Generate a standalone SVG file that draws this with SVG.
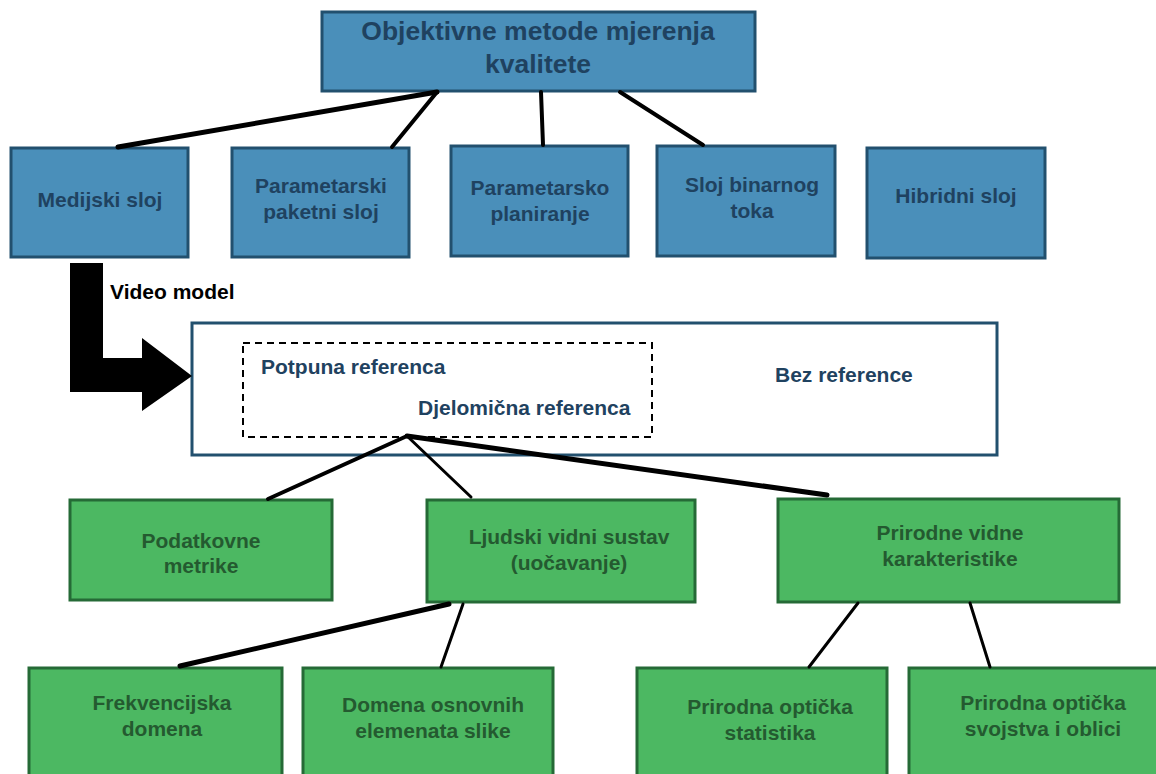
<svg xmlns="http://www.w3.org/2000/svg" width="1156" height="774" viewBox="0 0 1156 774">
<style>
.b{fill:#4a8fba;stroke:#22506e;stroke-width:3}
.g{fill:#4cb862;stroke:#256a36;stroke-width:3}
text{font-family:"Liberation Sans",Arial,sans-serif;font-weight:bold;text-anchor:middle}
.tb{fill:#1f4260;font-size:21px}
.tg{fill:#245a30;font-size:21px}
.tr{fill:#1f4260;font-size:21px;text-anchor:start}
.c{stroke:#000;fill:none;stroke-linecap:round}
</style>
<rect width="1156" height="774" fill="#fff"/>
<g id="root"><rect class="b" x="322" y="12" width="433" height="79"/>
<text class="tb" x="538" y="40" style="font-size:26.5px">Objektivne metode mjerenja</text>
<text class="tb" x="538" y="73" style="font-size:26.5px">kvalitete</text></g>
<g id="medijski"><rect class="b" x="11" y="148" width="177" height="109"/><text class="tb" x="100" y="207">Medijski sloj</text></g>
<g id="paketni"><rect class="b" x="232" y="148" width="177" height="109"/><text class="tb" x="321" y="193">Parametarski</text><text class="tb" x="321" y="219">paketni sloj</text></g>
<g id="planiranje"><rect class="b" x="451" y="146" width="177" height="110"/><text class="tb" x="540" y="195">Parametarsko</text><text class="tb" x="540" y="221">planiranje</text></g>
<g id="binarni"><rect class="b" x="657" y="146" width="178" height="110"/><text class="tb" x="752" y="192">Sloj binarnog</text><text class="tb" x="752" y="218">toka</text></g>
<g id="hibridni"><rect class="b" x="867" y="148" width="178" height="110"/><text class="tb" x="956" y="203">Hibridni sloj</text></g>
<g id="reference"><rect x="192" y="323" width="805" height="132" fill="#fff" stroke="#22506e" stroke-width="3"/>
<rect x="243" y="343" width="409" height="94" fill="none" stroke="#000" stroke-width="2" stroke-dasharray="7,5"/>
<text class="tr" x="261" y="374">Potpuna referenca</text>
<text class="tr" x="418" y="415">Djelomična referenca</text>
<text class="tr" x="775" y="382">Bez reference</text></g>
<g id="podatkovne"><rect class="g" x="70" y="500" width="262" height="100"/><text class="tg" x="201" y="548">Podatkovne</text><text class="tg" x="201" y="573">metrike</text></g>
<g id="ljudski"><rect class="g" x="427" y="500" width="268" height="102"/><text class="tg" x="569" y="544">Ljudski vidni sustav</text><text class="tg" x="569" y="570">(uočavanje)</text></g>
<g id="prirodne"><rect class="g" x="778" y="499" width="341" height="103"/><text class="tg" x="950" y="540">Prirodne vidne</text><text class="tg" x="950" y="566">karakteristike</text></g>
<g id="frekvencijska"><rect class="g" x="29" y="668" width="253" height="110"/><text class="tg" x="162" y="710">Frekvencijska</text><text class="tg" x="162" y="736">domena</text></g>
<g id="domena"><rect class="g" x="303" y="668" width="250" height="110"/><text class="tg" x="433" y="712">Domena osnovnih</text><text class="tg" x="433" y="738">elemenata slike</text></g>
<g id="statistika"><rect class="g" x="637" y="668" width="250" height="110"/><text class="tg" x="770" y="714">Prirodna optička</text><text class="tg" x="770" y="740">statistika</text></g>
<g id="svojstva"><rect class="g" x="909" y="668" width="250" height="110"/><text class="tg" x="1043" y="710">Prirodna optička</text><text class="tg" x="1043" y="736">svojstva i oblici</text></g>
<g id="connectors">
<line class="c" x1="437" y1="92" x2="118" y2="147" stroke-width="5"/>
<line class="c" x1="437" y1="92" x2="392" y2="147" stroke-width="4"/>
<line class="c" x1="541" y1="92" x2="543" y2="145" stroke-width="4"/>
<line class="c" x1="620" y1="92" x2="703" y2="145" stroke-width="4"/>
<line class="c" x1="407" y1="436" x2="268" y2="499" stroke-width="4"/>
<line class="c" x1="407" y1="436" x2="471" y2="497" stroke-width="3"/>
<line class="c" x1="407" y1="436" x2="827" y2="495" stroke-width="5"/>
<line class="c" x1="449" y1="604" x2="180" y2="666" stroke-width="5"/>
<line class="c" x1="463" y1="604" x2="441" y2="667" stroke-width="3"/>
<line class="c" x1="858" y1="603" x2="809" y2="667" stroke-width="3"/>
<line class="c" x1="970" y1="603" x2="990" y2="667" stroke-width="3"/>
<path id="video-arrow" d="M70 263 H103 V358 H142 V338 L192 376 L142 411 V392 H70 Z" fill="#000"/>
<text x="110" y="299" style="font-size:21px;text-anchor:start;fill:#000">Video model</text>
</g>
</svg>
